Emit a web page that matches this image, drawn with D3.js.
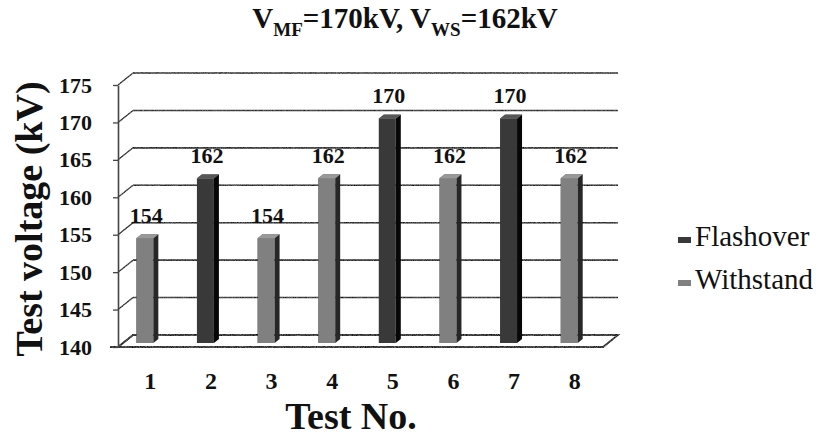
<!DOCTYPE html>
<html>
<head>
<meta charset="utf-8">
<script src="https://cdn.jsdelivr.net/npm/d3@7"></script>
<style>
  html, body { margin: 0; padding: 0; background: #fff; }
  svg { display: block; }
</style>
</head>
<body>
<svg id="chart" width="824" height="445"></svg>
<script>
// Up-and-down test sequence
const tests = ["1", "2", "3", "4", "5", "6", "7", "8"];
const voltages = [154, 162, 154, 162, 170, 162, 170, 162];
const outcomes = ["Withstand", "Flashover", "Withstand", "Withstand", "Flashover", "Withstand", "Flashover", "Withstand"];
const seriesNames = ["Flashover", "Withstand"];
const yTicks = [140, 145, 150, 155, 160, 165, 170, 175];

const SERIF = "'Liberation Serif', 'Times New Roman', Times, serif";
const svg = d3.select("#chart");

// front plane of the 3-D box, with the back wall shifted up/right
const plot = { left: 118, right: 603, top: 85, bottom: 347 };
const depth = { dx: 15, dy: -12 };
const barDepth = { dx: 5, dy: -4 };

const x = d3.scaleBand().domain(tests).range([plot.left, plot.right]);
const y = d3.scaleLinear().domain([yTicks[0], yTicks[yTicks.length - 1]]).range([plot.bottom, plot.top]);

const faceColor = d3.scaleOrdinal().domain(seriesNames).range(["#3c3c3c", "#838383"]);
const sideColor = d3.scaleOrdinal().domain(seriesNames).range(["#0a0a0a", "#2a2a2a"]);
const topColor  = d3.scaleOrdinal().domain(seriesNames).range(["#5a5a5a", "#9c9c9c"]);

// grain filters for the printed fills and lines
const defs = svg.append("defs");
function makeGrain(id, freq, amount, seed) {
  const f = defs.append("filter").attr("id", id)
    .attr("color-interpolation-filters", "sRGB")
    .attr("filterUnits", "userSpaceOnUse").attr("x", 0).attr("y", 0).attr("width", 824).attr("height", 445);
  f.append("feTurbulence").attr("type", "fractalNoise").attr("baseFrequency", freq)
    .attr("numOctaves", 2).attr("seed", seed).attr("result", "noise");
  f.append("feColorMatrix").attr("in", "noise").attr("type", "matrix")
    .attr("values", "0.33 0.33 0.33 0 0  0.33 0.33 0.33 0 0  0.33 0.33 0.33 0 0  0 0 0 0 1")
    .attr("result", "gnoise");
  f.append("feComposite").attr("in", "SourceGraphic").attr("in2", "gnoise").attr("operator", "arithmetic")
    .attr("k1", 0).attr("k2", 1).attr("k3", amount).attr("k4", -amount / 2).attr("result", "mix");
  f.append("feComposite").attr("in", "mix").attr("in2", "SourceGraphic").attr("operator", "in");
}
makeGrain("grain", 1.0, 2.0, 3);
makeGrain("lineGrain", 1.1, 1.2, 7);

const gridColor = "#444";

// ---- walls and floor ----
const walls = svg.append("g").attr("filter", "url(#lineGrain)");

const f0 = y(yTicks[0]);
walls.append("path")
  .attr("d", d3.line()([
    [plot.left, f0], [plot.left + depth.dx, f0 + depth.dy],
    [plot.right + depth.dx, f0 + depth.dy], [plot.right, f0], [plot.left - 8, f0]
  ]))
  .attr("fill", "none").attr("stroke", gridColor).attr("stroke-width", 1.8);

walls.selectAll(".grid").data(yTicks.slice(1)).join("line")
  .attr("x1", plot.left + depth.dx).attr("x2", plot.right + depth.dx)
  .attr("y1", d => y(d) + depth.dy).attr("y2", d => y(d) + depth.dy)
  .attr("stroke", gridColor).attr("stroke-width", 1.6);
walls.selectAll(".diag").data(yTicks).join("line")
  .attr("x1", plot.left).attr("x2", plot.left + depth.dx)
  .attr("y1", d => y(d)).attr("y2", d => y(d) + depth.dy)
  .attr("stroke", gridColor).attr("stroke-width", 1.3);

// ---- y axis ----
const yAxis = svg.append("g")
  .attr("transform", `translate(${plot.left},0)`)
  .call(d3.axisLeft(y).tickValues(yTicks).tickFormat(d3.format("d")).tickSize(5).tickSizeOuter(0).tickPadding(21));
yAxis.select(".domain").attr("stroke", gridColor).attr("stroke-width", 1.6);
yAxis.selectAll(".tick line").attr("stroke", gridColor).attr("stroke-width", 1.3);
yAxis.selectAll(".tick text")
  .style("font-family", SERIF).style("font-size", "22px").style("font-weight", "bold").style("fill", "#111");

// ---- x axis labels ----
const xAxis = svg.append("g")
  .attr("transform", `translate(0,${plot.bottom})`)
  .call(d3.axisBottom(x).tickSize(0).tickPadding(25));
xAxis.select(".domain").remove();
xAxis.selectAll(".tick text")
  .attr("dx", 2)
  .style("font-family", SERIF).style("font-size", "24px").style("font-weight", "bold").style("fill", "#111");

// ---- bars ----
const barW = x.bandwidth() * 0.28;
const rows = tests.map((t, i) => ({ t, v: voltages[i], s: outcomes[i] }));
const barLift = 4;
const bars = svg.append("g").attr("filter", "url(#grain)")
  .selectAll("g").data(rows).join("g");

bars.each(function (d) {
  const g = d3.select(this);
  const x0 = x(d.t) + x.bandwidth() / 2 - 12;
  const x1 = x0 + barW;
  const yt = y(d.v) - barLift;
  const yb = y(yTicks[0]) - barLift;
  const { dx, dy } = barDepth;
  g.append("path").attr("d", d3.line()([[x1, yt], [x1 + dx, yt + dy], [x1 + dx, yb + dy], [x1, yb]]) + "Z")
    .attr("fill", sideColor(d.s));
  g.append("path").attr("d", d3.line()([[x0, yt], [x0 + dx, yt + dy], [x1 + dx, yt + dy], [x1, yt]]) + "Z")
    .attr("fill", topColor(d.s));
  g.append("rect").attr("x", x0).attr("y", yt).attr("width", barW).attr("height", yb - yt)
    .attr("fill", faceColor(d.s));
});

// value labels
svg.append("g").selectAll("text").data(rows).join("text")
  .attr("x", d => x(d.t) + x.bandwidth() / 2 - 2)
  .attr("y", d => y(d.v) - barLift + barDepth.dy - 11)
  .attr("text-anchor", "middle")
  .style("font-family", SERIF).style("font-size", "22px").style("font-weight", "bold").style("fill", "#111")
  .text(d => d.v);

// ---- title ----
const title = svg.append("text").attr("x", 405).attr("y", 28)
  .attr("text-anchor", "middle")
  .style("font-family", SERIF).style("font-size", "29px").style("font-weight", "bold").style("fill", "#111");
title.append("tspan").text("V");
title.append("tspan").style("font-size", "19px").attr("dy", 8).text("MF");
title.append("tspan").attr("dy", -8).text("=170kV, V");
title.append("tspan").style("font-size", "19px").attr("dy", 8).text("WS");
title.append("tspan").attr("dy", -8).text("=162kV");

// ---- axis titles ----
svg.append("text")
  .attr("transform", "translate(42,219) rotate(-90)")
  .attr("text-anchor", "middle")
  .style("font-family", SERIF).style("font-size", "38px").style("font-weight", "bold").style("fill", "#111")
  .text("Test voltage (kV)");
svg.append("text")
  .attr("x", 351).attr("y", 429)
  .attr("text-anchor", "middle")
  .style("font-family", SERIF).style("font-size", "38px").style("font-weight", "bold").style("fill", "#111")
  .text("Test No.");

// ---- legend ----
const legend = svg.append("g").attr("transform", "translate(678,0)");
const legendY = [237, 280];
const items = legend.selectAll("g").data(seriesNames).join("g")
  .attr("transform", (d, i) => `translate(0,${legendY[i]})`);
items.append("rect").attr("x", 0).attr("y", -7).attr("width", 13).attr("height", 13)
  .attr("fill", d => faceColor(d)).attr("filter", "url(#grain)");
items.append("text").attr("x", 17).attr("y", 9)
  .style("font-family", SERIF).style("font-size", "29px").style("fill", "#111")
  .text(d => d);
</script>
</body>
</html>
